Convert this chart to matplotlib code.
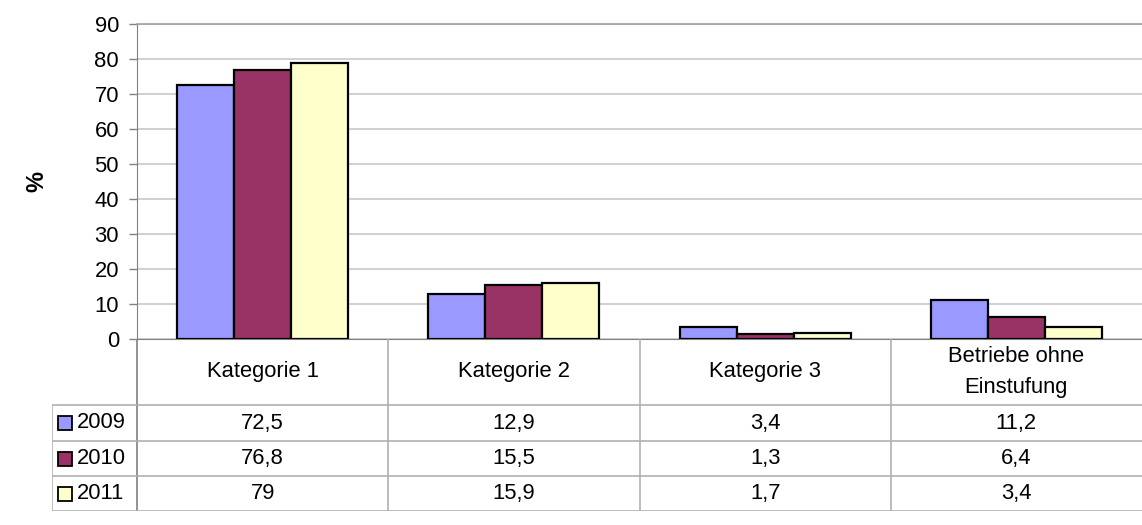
import matplotlib
matplotlib.use("Agg")
import matplotlib.pyplot as plt
import numpy as np
from matplotlib.patches import Rectangle

plt.rcParams['font.family'] = ['Liberation Sans', 'DejaVu Sans']

categories = ["Kategorie 1", "Kategorie 2", "Kategorie 3", "Betriebe ohne\nEinstufung"]
years = ["2009", "2010", "2011"]
v2009 = [72.5, 12.9, 3.4, 11.2]
v2010 = [76.8, 15.5, 1.3, 6.4]
v2011 = [79, 15.9, 1.7, 3.4]
labels2009 = ["72,5", "12,9", "3,4", "11,2"]
labels2010 = ["76,8", "15,5", "1,3", "6,4"]
labels2011 = ["79", "15,9", "1,7", "3,4"]
yticks = [0, 10, 20, 30, 40, 50, 60, 70, 80, 90]

series = [v2009, v2010, v2011]
labels = [labels2009, labels2010, labels2011]
colors = ["#9999ff", "#993366", "#ffffcc"]

W, H = 1142, 525
fig = plt.figure(figsize=(W / 100, H / 100), dpi=100)

# plot area (pixels): x 137..1142, y 24..339
ax = fig.add_axes([137 / W, (H - 339) / H, (W - 137) / W, (339 - 24) / H])
x = np.arange(len(categories))
bw = 0.227
for i, vals in enumerate(series):
    ax.bar(x + (i - 1) * bw, vals, bw, color=colors[i], edgecolor="black",
           linewidth=1.6, zorder=3)

ax.set_xlim(-0.5, len(categories) - 0.5)
ax.set_ylim(0, 90)
ax.set_yticks(yticks)
ax.set_yticklabels([str(t) for t in yticks], fontsize=15.8)
ax.set_xticks([])
ax.grid(axis="y", color="#c8c8c8", linewidth=1.2, zorder=0)
ax.spines["right"].set_visible(False)
ax.spines["top"].set_color("#a0a0a0")
ax.spines["top"].set_linewidth(1.2)
ax.spines["left"].set_color("#808080")
ax.spines["bottom"].set_color("#808080")
ax.tick_params(axis="y", length=6, width=1, color="#808080", pad=7)
ax.set_ylabel("%", fontsize=17, fontweight="bold", labelpad=33)

# data table below the plot: rows (pixels) 339..511, legend column from x=52
tab = fig.add_axes([52 / W, (H - 511) / H, (W - 52) / W, (511 - 339) / H])
catw = (W - 137) / len(categories)
xleft = -0.5 - (137 - 52) / catw
tab.set_xlim(xleft, len(categories) - 0.5)
tab.set_ylim(172, 0)
tab.axis("off")

lc = "#b0b0b0"
rows_y = [66, 102, 137, 172]
tab.plot([-0.5, -0.5], [0, 172], color="#808080", lw=1.2)
for b in x[1:] - 0.5:
    tab.plot([b, b], [0, 172], color=lc, lw=1.2)
tab.plot([xleft, xleft], [66, 172], color=lc, lw=1.2)
for ry in rows_y:
    tab.plot([xleft, len(categories) - 0.5], [ry, ry], color=lc, lw=1.2)

for j, c in enumerate(categories):
    tab.text(j, 33, c, ha="center", va="center", fontsize=15.8,
             linespacing=1.65)

px = 1 / catw
for i, yr in enumerate(years):
    cy = (rows_y[i] + rows_y[i + 1]) / 2
    tab.add_patch(Rectangle((xleft + 6 * px, cy - 7), 14 * px, 14,
                            facecolor=colors[i], edgecolor="black", lw=1.3,
                            clip_on=False))
    tab.text(xleft + 25 * px, cy, yr, ha="left", va="center", fontsize=15.8)
    for j in range(len(categories)):
        tab.text(j, cy, labels[i][j], ha="center", va="center", fontsize=15.8)

fig.savefig("out.png", dpi=100)
